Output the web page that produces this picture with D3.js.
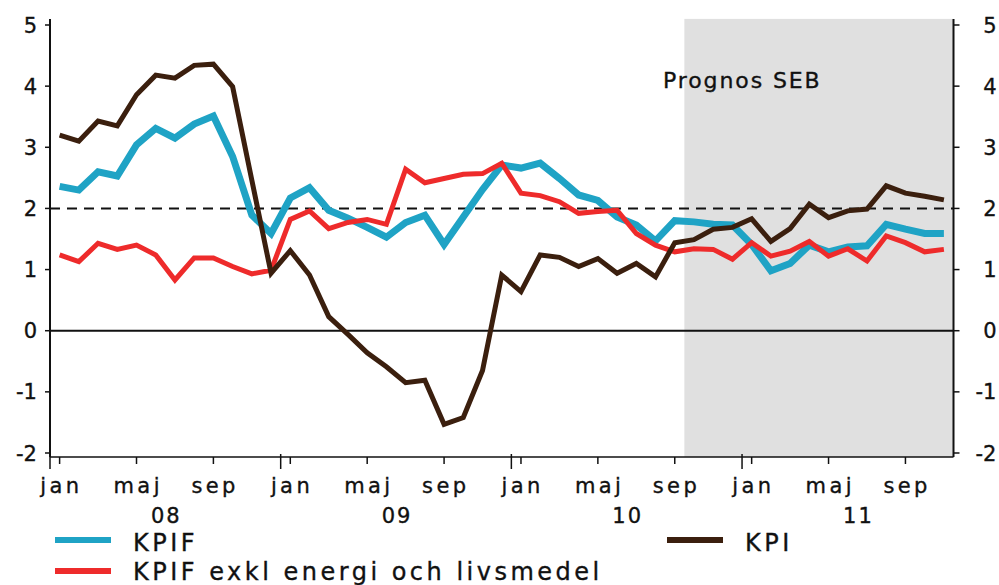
<!DOCTYPE html>
<html>
<head>
<meta charset="utf-8">
<script src="https://cdn.jsdelivr.net/npm/d3@7"></script>
<style>
  body { margin: 0; background: #fff; }
  svg text { font-family: "DejaVu Sans", sans-serif; fill: #111; stroke: #111; stroke-width: 0.35px; }
</style>
</head>
<body>
<div id="chart"></div>
<script>
// monthly data jan 2008 - nov 2011
const months = ["jan","feb","mar","apr","maj","jun","jul","aug","sep","okt","nov","dec"]
const years = ["08","09","10","11"]
const nMonths = 47

const kpif = [2.36,2.30,2.60,2.53,3.04,3.31,3.15,3.38,3.51,2.85,1.89,1.59,
  2.17,2.34,1.97,1.84,1.69,1.53,1.77,1.89,1.41,1.86,2.31,2.71,
  2.66,2.74,2.49,2.22,2.13,1.86,1.73,1.47,1.80,1.78,1.74,1.73,
  1.41,0.98,1.10,1.40,1.29,1.37,1.39,1.74,1.66,1.59,1.59]

const kpifExkl = [1.24,1.13,1.43,1.33,1.40,1.24,0.83,1.19,1.19,1.05,0.93,0.99,
  1.82,1.96,1.67,1.77,1.82,1.74,2.64,2.42,2.49,2.56,2.57,2.74,
  2.25,2.21,2.11,1.92,1.95,1.97,1.59,1.40,1.29,1.34,1.33,1.17,
  1.44,1.22,1.30,1.46,1.22,1.34,1.14,1.55,1.44,1.29,1.33]

const kpi = [3.20,3.10,3.43,3.35,3.86,4.18,4.13,4.34,4.36,3.99,2.46,0.94,
  1.31,0.91,0.23,-0.06,-0.36,-0.59,-0.85,-0.81,-1.53,-1.42,-0.65,0.91,
  0.64,1.24,1.20,1.05,1.18,0.94,1.10,0.88,1.44,1.49,1.66,1.69,
  1.83,1.46,1.67,2.07,1.85,1.96,1.99,2.37,2.25,2.20,2.14]

const yTicks = [-2,-1,0,1,2,3,4,5]
const forecastStart = 33   // okt 2010
const target = 2

const width = 999, height = 585

const svg = d3.select("#chart").append("svg")
  .attr("width", width)
  .attr("height", height)

const x = d3.scaleLinear().domain([0, nMonths]).range([50, 953.5])
const y = d3.scaleLinear().domain([-2, 5]).range([453, 25])
const yTop = y(5.1), yBot = y(-2.065)

// forecast shading
svg.append("rect")
  .attr("x", x(forecastStart))
  .attr("y", yTop)
  .attr("width", x(nMonths) - x(forecastStart))
  .attr("height", yBot - yTop)
  .attr("fill", "#e0e0e0")

svg.append("text")
  .attr("x", 663)
  .attr("y", 88)
  .style("font-size", "22px")
  .style("letter-spacing", "1.9px")
  .text("Prognos SEB")

// zero line and target line
svg.append("line")
  .attr("x1", x(0)).attr("x2", x(nMonths))
  .attr("y1", y(0)).attr("y2", y(0))
  .attr("stroke", "#111").attr("stroke-width", 2)

svg.append("line")
  .attr("x1", x(0)).attr("x2", x(nMonths))
  .attr("y1", y(target)).attr("y2", y(target))
  .attr("stroke", "#111").attr("stroke-width", 2)
  .attr("stroke-dasharray", "10,7")

// y axes
const leftAxis = svg.append("g").attr("transform", "translate(" + x(0) + ",0)")
leftAxis.append("line").attr("y1", yTop).attr("y2", yBot).attr("stroke", "#111").attr("stroke-width", 2)
leftAxis.selectAll(".tk").data(yTicks).enter().append("line")
  .attr("x1", -5).attr("x2", 0)
  .attr("y1", d => y(d)).attr("y2", d => y(d))
  .attr("stroke", "#111").attr("stroke-width", 1.5)
leftAxis.selectAll("text").data(yTicks).enter().append("text")
  .attr("x", -13).attr("y", d => y(d)).attr("dy", "0.36em")
  .style("text-anchor", "end").style("font-size", "21px")
  .text(d => d)

const rightAxis = svg.append("g").attr("transform", "translate(" + x(nMonths) + ",0)")
rightAxis.append("line").attr("y1", yTop).attr("y2", yBot).attr("stroke", "#111").attr("stroke-width", 2)
rightAxis.selectAll(".tk").data(yTicks).enter().append("line")
  .attr("x1", 0).attr("x2", 6)
  .attr("y1", d => y(d)).attr("y2", d => y(d))
  .attr("stroke", "#111").attr("stroke-width", 1.5)
rightAxis.selectAll("text").data(yTicks).enter().append("text")
  .attr("x", 43).attr("y", d => y(d)).attr("dy", "0.36em")
  .style("text-anchor", "end").style("font-size", "21px")
  .text(d => d)

// x axis
const xAxis = svg.append("g").attr("transform", "translate(0," + yBot + ")")
xAxis.append("line").attr("x1", x(0)).attr("x2", x(nMonths)).attr("stroke", "#111").attr("stroke-width", 1.5)

const labelMonths = d3.range(nMonths).filter(i => [0, 4, 8].includes(i % 12))
xAxis.selectAll(".mt").data(labelMonths).enter().append("line")
  .attr("x1", d => x(d + 0.5)).attr("x2", d => x(d + 0.5))
  .attr("y1", 0).attr("y2", 7)
  .attr("stroke", "#111").attr("stroke-width", 1.5)
xAxis.selectAll(".ml").data(labelMonths).enter().append("text")
  .attr("x", d => x(d + 0.5) + 1.7).attr("y", 36)
  .style("text-anchor", "middle").style("font-size", "21px").style("letter-spacing", "3.4px")
  .text(d => months[d % 12])

xAxis.selectAll(".yt").data(d3.range(years.length)).enter().append("line")
  .attr("x1", d => x(d * 12)).attr("x2", d => x(d * 12))
  .attr("y1", -3).attr("y2", 12)
  .attr("stroke", "#111").attr("stroke-width", 1.5)
xAxis.selectAll(".yl").data(years).enter().append("text")
  .attr("x", (d, i) => x(i * 12 + 6) + 1).attr("y", 66)
  .style("text-anchor", "middle").style("font-size", "21px").style("letter-spacing", "2px")
  .text(d => d)

// series lines
const line = d3.line()
  .x((d, i) => x(i + 0.5))
  .y(d => y(d))

const series = [
  { name: "KPIF", values: kpif, color: "#1fa3c5", w: 7 },
  { name: "KPIF exkl energi och livsmedel", values: kpifExkl, color: "#ee2b2b", w: 5 },
  { name: "KPI", values: kpi, color: "#3b1f0e", w: 5 }
]

svg.append("g").selectAll("path").data(series).enter().append("path")
  .attr("d", d => line(d.values))
  .attr("fill", "none")
  .attr("stroke", d => d.color)
  .attr("stroke-width", d => d.w)
  .attr("stroke-linejoin", "miter")

// legend
const legendPos = [
  { lx: 55, ly: 540, tx: 133, ty: 551 },
  { lx: 55, ly: 571, tx: 133, ty: 580 },
  { lx: 667, ly: 540, tx: 745, ty: 551 }
]
const legend = svg.selectAll(".legend").data(series).enter().append("g")
legend.append("line")
  .attr("x1", (d, i) => legendPos[i].lx).attr("x2", (d, i) => legendPos[i].lx + 56)
  .attr("y1", (d, i) => legendPos[i].ly).attr("y2", (d, i) => legendPos[i].ly)
  .attr("stroke", d => d.color).attr("stroke-width", 6)
legend.append("text")
  .attr("x", (d, i) => legendPos[i].tx).attr("y", (d, i) => legendPos[i].ty)
  .style("font-size", "24px").style("letter-spacing", "3.5px")
  .text(d => d.name)
</script>
</body>
</html>
